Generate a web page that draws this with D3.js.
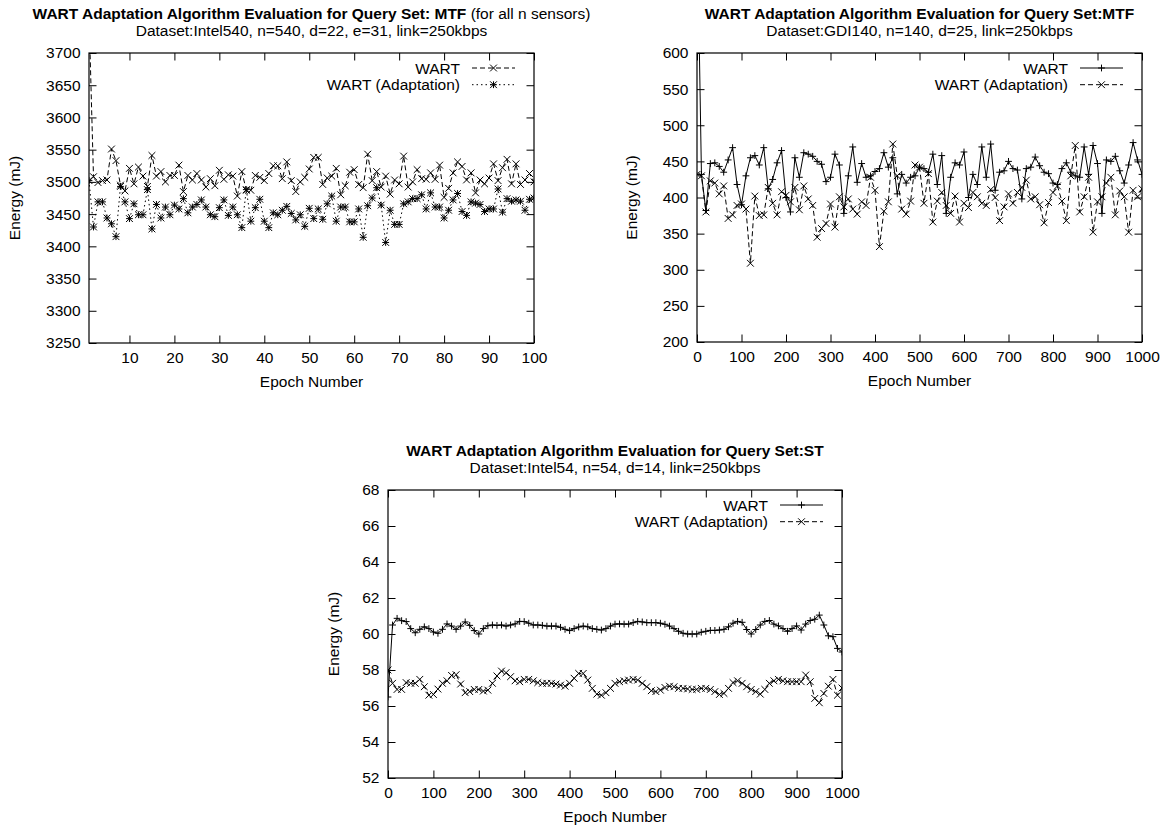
<!DOCTYPE html>
<html>
<head>
<meta charset="utf-8">
<script src="https://cdn.jsdelivr.net/npm/d3@7/dist/d3.min.js"></script>
<style>
  body { margin: 0; background: #fff; }
  svg { display: block; }
</style>
</head>
<body>
<svg id="fig" width="1173" height="826"></svg>
<script>
// ---- data: MTF query set, Intel540 (epochs 1..100)
var intel540Epochs = d3.range(1, 101);
var intel540Wart = [
  3760, 3508, 3499, 3502, 3503, 3551, 3533, 3495, 3486, 3521,
  3497, 3523, 3509, 3493, 3541, 3509, 3516, 3500, 3510, 3510,
  3526, 3485, 3510, 3503, 3513, 3503, 3492, 3505, 3494, 3518,
  3504, 3511, 3509, 3478, 3516, 3487, 3487, 3510, 3507, 3502,
  3513, 3525, 3525, 3505, 3531, 3502, 3485, 3500, 3507, 3520,
  3538, 3538, 3496, 3506, 3509, 3521, 3480, 3494, 3515, 3519,
  3496, 3491, 3543, 3502, 3516, 3492, 3509, 3481, 3503, 3497,
  3540, 3492, 3500, 3519, 3505, 3504, 3514, 3504, 3526, 3476,
  3490, 3514, 3531, 3524, 3503, 3514, 3483, 3503, 3497, 3506,
  3528, 3502, 3522, 3535, 3497, 3528, 3496, 3503, 3513, 3500
];
var intel540Adapt = [
  3502, 3430, 3469, 3469, 3444, 3435, 3415, 3493, 3469, 3443,
  3466, 3449, 3449, 3488, 3427, 3465, 3444, 3461, 3449, 3464,
  3458, 3474, 3452, 3461, 3465, 3472, 3461, 3449, 3446, 3460,
  3472, 3448, 3461, 3449, 3429, 3488, 3439, 3460, 3473, 3439,
  3429, 3452, 3449, 3456, 3462, 3451, 3441, 3449, 3431, 3459,
  3443, 3458, 3442, 3466, 3478, 3439, 3461, 3461, 3438, 3438,
  3458, 3414, 3463, 3475, 3491, 3464, 3406, 3456, 3434, 3434,
  3466, 3469, 3474, 3474, 3480, 3458, 3483, 3461, 3461, 3444,
  3456, 3472, 3482, 3454, 3448, 3469, 3467, 3465, 3454, 3458,
  3458, 3489, 3453, 3474, 3470, 3472, 3470, 3456, 3473, 3475
];
var intel540XTicks = [10, 20, 30, 40, 50, 60, 70, 80, 90, 100];
var intel540YTicks = [3250, 3300, 3350, 3400, 3450, 3500, 3550, 3600, 3650, 3700];

// ---- data: MTF query set, GDI140 (epochs 0..1000 step 10)
var gdi140Epochs = d3.range(0, 1001, 10);
var gdi140Wart = [
  800, 432, 382, 447, 448, 443, 435, 452, 469, 418,
  390, 430, 455, 458, 445, 469, 412, 425, 448, 465,
  400, 380, 455, 428, 462, 460, 457, 450, 446, 422,
  428, 460, 445, 378, 430, 470, 421, 447, 428, 430,
  436, 440, 462, 442, 455, 405, 432, 420, 428, 430,
  442, 440, 435, 460, 418, 458, 378, 428, 448, 445,
  463, 400, 432, 418, 470, 428, 474, 410, 435, 437,
  450, 440, 438, 398, 440, 442, 456, 444, 435, 433,
  420, 418, 440, 448, 435, 430, 428, 470, 432, 472,
  447, 378, 452, 450, 457, 437, 420, 445, 476, 452,
  432
];
var gdi140Adapt = [
  432, 430, 380, 423, 420, 405, 416, 371, 376, 389,
  391, 384, 309, 402, 375, 376, 414, 392, 376, 408,
  403, 394, 414, 383, 416, 398, 389, 345, 357, 364,
  391, 359, 401, 387, 398, 384, 377, 394, 389, 428,
  410, 332, 381, 394, 474, 430, 384, 377, 395, 445,
  442, 392, 433, 366, 395, 407, 389, 378, 402, 366,
  392, 386, 407, 401, 392, 389, 411, 400, 368, 387,
  405, 392, 407, 414, 424, 398, 401, 390, 365, 393,
  407, 416, 395, 368, 430, 472, 380, 401, 428, 352,
  394, 401, 420, 428, 376, 409, 401, 352, 410, 401,
  412
];
var gdi140XTicks = [0, 100, 200, 300, 400, 500, 600, 700, 800, 900, 1000];
var gdi140YTicks = [200, 250, 300, 350, 400, 450, 500, 550, 600];

// ---- data: ST query set, Intel54 (epochs 0..1000 step 10)
var intel54Epochs = d3.range(0, 1001, 10);
var intel54Wart = [
  56.5, 60.5, 60.87, 60.74, 60.69, 60.3, 60.07, 60.26, 60.4, 60.3,
  60.11, 60.04, 60.26, 60.56, 60.44, 60.26, 60.44, 60.67, 60.48, 60.19,
  60.0, 60.3, 60.46, 60.5, 60.48, 60.5, 60.44, 60.5, 60.56, 60.7,
  60.69, 60.6, 60.5, 60.5, 60.48, 60.44, 60.44, 60.44, 60.37, 60.26,
  60.19, 60.3, 60.39, 60.44, 60.4, 60.3, 60.26, 60.22, 60.3, 60.44,
  60.55, 60.56, 60.55, 60.55, 60.63, 60.7, 60.67, 60.63, 60.63, 60.63,
  60.6, 60.54, 60.44, 60.3, 60.15, 60.04, 60.0, 60.0, 60.0, 60.1,
  60.15, 60.2, 60.2, 60.22, 60.26, 60.4, 60.6, 60.7, 60.65, 60.25,
  60.0, 60.25, 60.5, 60.7, 60.75, 60.55, 60.45, 60.3, 60.15, 60.3,
  60.45, 60.22, 60.55, 60.75, 60.82, 61.05, 60.5, 59.9, 59.85, 59.2,
  59.0
];
var intel54Adapt = [
  58.0, 57.26, 56.92, 56.92, 57.3, 57.26, 57.26, 57.48, 57.07, 56.6,
  56.64, 56.94, 57.26, 57.4, 57.7, 57.74, 57.22, 56.74, 56.8, 56.92,
  56.92, 56.83, 56.88, 57.26, 57.67, 57.94, 57.85, 57.63, 57.4, 57.35,
  57.48, 57.48, 57.4, 57.3, 57.26, 57.26, 57.26, 57.22, 57.16, 57.1,
  57.26, 57.54, 57.81, 57.81, 57.44, 56.98, 56.66, 56.6, 56.74, 56.98,
  57.26, 57.35, 57.4, 57.44, 57.48, 57.44, 57.26, 57.07, 56.85, 56.8,
  56.88, 57.03, 57.1, 57.07, 56.98, 56.98, 56.95, 56.92, 56.92, 56.98,
  56.98, 56.92, 56.8, 56.64, 56.7, 56.98, 57.3, 57.4, 57.26, 57.07,
  56.92, 56.8, 56.66, 56.92, 57.26, 57.4, 57.48, 57.4, 57.35, 57.35,
  57.35, 57.35, 57.72, 57.35, 56.42, 56.18, 56.7, 57.1, 57.48, 56.6,
  57.0
];
var intel54XTicks = [0, 100, 200, 300, 400, 500, 600, 700, 800, 900, 1000];
var intel54YTicks = [52, 54, 56, 58, 60, 62, 64, 66, 68];

// ---- drawing
var FONT = '"Liberation Sans", Arial, Helvetica, sans-serif';
var FS = 15.5;
var svg = d3.select("#fig");
var defs = svg.append("defs");

function markerPath(kind, s) {
  var cross = "M" + (-s) + "," + (-s) + "L" + s + "," + s + "M" + (-s) + "," + s + "L" + s + "," + (-s);
  var plus = "M" + (-s) + ",0H" + s + "M0," + (-s) + "V" + s;
  if (kind == "x") return cross;
  if (kind == "+") return plus;
  return cross + plus;
}

var DASH = { solid: null, dashed: "5,3", dotted: "1.5,3" };

function drawChart(c) {
  var x = d3.scaleLinear().domain(c.xDomain).range([c.left, c.right]);
  var y = d3.scaleLinear().domain(c.yDomain).range([c.bottom, c.top]);
  var g = svg.append("g");
  var midX = (c.left + c.right) / 2;

  defs.append("clipPath").attr("id", c.id + "-clip")
    .append("rect")
      .attr("x", c.left).attr("y", c.top)
      .attr("width", c.right - c.left).attr("height", c.bottom - c.top);

  // axes, ticks pointing inward on all four sides
  var fmt = d3.format("d");
  var axes = [
    [d3.axisBottom(x).tickValues(c.xTicks).tickFormat(fmt), "translate(0," + c.bottom + ")"],
    [d3.axisTop(x).tickValues(c.xTicks).tickFormat(""), "translate(0," + c.top + ")"],
    [d3.axisLeft(y).tickValues(c.yTicks).tickFormat(fmt), "translate(" + c.left + ",0)"],
    [d3.axisRight(y).tickValues(c.yTicks).tickFormat(""), "translate(" + c.right + ",0)"]
  ];
  axes.forEach(function(a) {
    var ax = g.append("g")
      .attr("transform", a[1])
      .call(a[0].tickSize(-7.5).tickPadding(8.5));
    ax.select(".domain").remove();
    ax.selectAll(".tick line").attr("stroke", "#000").attr("stroke-width", 1);
    ax.attr("font-family", FONT).attr("font-size", FS);
    ax.selectAll("text").attr("fill", "#000");
  });

  g.append("rect")
    .attr("x", c.left).attr("y", c.top)
    .attr("width", c.right - c.left).attr("height", c.bottom - c.top)
    .attr("fill", "none").attr("stroke", "#000").attr("stroke-width", 1.2);

  // series
  var line = d3.line()
    .x(function(d) { return x(d[0]); })
    .y(function(d) { return y(d[1]); });

  c.series.forEach(function(s) {
    var pts = s.x.map(function(e, i) { return [e, s.y[i]]; });
    var sg = g.append("g").attr("clip-path", "url(#" + c.id + "-clip)");
    sg.append("path")
      .attr("d", line(pts))
      .attr("fill", "none")
      .attr("stroke", "#000")
      .attr("stroke-width", 1)
      .attr("stroke-dasharray", DASH[s.dash]);
    sg.selectAll(null).data(pts).enter().append("path")
      .attr("transform", function(d) { return "translate(" + x(d[0]) + "," + y(d[1]) + ")"; })
      .attr("d", markerPath(s.marker, 3.4))
      .attr("fill", "none")
      .attr("stroke", "#000")
      .attr("stroke-width", 1);
  });

  // legend (top right, inside)
  c.series.forEach(function(s, i) {
    var ly = c.top + 15 + i * 16.7;
    g.append("text")
      .attr("x", c.right - 74).attr("y", ly).attr("dy", "0.36em")
      .attr("text-anchor", "end")
      .attr("font-family", FONT).attr("font-size", FS)
      .text(s.name);
    g.append("line")
      .attr("x1", c.right - 62).attr("x2", c.right - 19)
      .attr("y1", ly).attr("y2", ly)
      .attr("stroke", "#000").attr("stroke-width", 1)
      .attr("stroke-dasharray", DASH[s.dash]);
    g.append("path")
      .attr("transform", "translate(" + (c.right - 40.5) + "," + ly + ")")
      .attr("d", markerPath(s.marker, 3.4))
      .attr("fill", "none").attr("stroke", "#000");
  });

  // titles, centred over the plot
  var t = g.append("text")
    .attr("x", midX).attr("y", c.top - 34.5)
    .attr("text-anchor", "middle")
    .attr("font-family", FONT).attr("font-size", FS);
  t.append("tspan").attr("font-weight", "bold").text(c.title);
  if (c.titleNote) t.append("tspan").text(c.titleNote);

  g.append("text")
    .attr("x", midX).attr("y", c.top - 17.5)
    .attr("text-anchor", "middle")
    .attr("font-family", FONT).attr("font-size", FS)
    .text(c.subtitle);

  g.append("text")
    .attr("x", midX).attr("y", c.bottom + 43.5)
    .attr("text-anchor", "middle")
    .attr("font-family", FONT).attr("font-size", FS)
    .text("Epoch Number");

  g.append("text")
    .attr("transform", "translate(" + c.yTitleX + "," + (c.top + c.bottom) / 2 + ") rotate(-90)")
    .attr("dy", "0.36em")
    .attr("text-anchor", "middle")
    .attr("font-family", FONT).attr("font-size", FS)
    .text("Energy (mJ)");
}

drawChart({
  id: "c1", left: 89, right: 534, top: 53, bottom: 343,
  xDomain: [1, 100], yDomain: [3250, 3700],
  xTicks: intel540XTicks, yTicks: intel540YTicks,
  title: "WART Adaptation Algorithm Evaluation for Query Set: MTF",
  titleNote: " (for all n sensors)",
  subtitle: "Dataset:Intel540, n=540, d=22, e=31, link=250kbps",
  yTitleX: 14,
  series: [
    { name: "WART", x: intel540Epochs, y: intel540Wart, dash: "dashed", marker: "x" },
    { name: "WART (Adaptation)", x: intel540Epochs, y: intel540Adapt, dash: "dotted", marker: "*" }
  ]
});

drawChart({
  id: "c2", left: 697, right: 1142, top: 53, bottom: 342,
  xDomain: [0, 1000], yDomain: [200, 600],
  xTicks: gdi140XTicks, yTicks: gdi140YTicks,
  title: "WART Adaptation Algorithm Evaluation for Query Set:MTF",
  subtitle: "Dataset:GDI140, n=140, d=25, link=250kbps",
  yTitleX: 631,
  series: [
    { name: "WART", x: gdi140Epochs, y: gdi140Wart, dash: "solid", marker: "+" },
    { name: "WART (Adaptation)", x: gdi140Epochs, y: gdi140Adapt, dash: "dashed", marker: "x" }
  ]
});

drawChart({
  id: "c3", left: 388, right: 842, top: 490, bottom: 778,
  xDomain: [0, 1000], yDomain: [52, 68],
  xTicks: intel54XTicks, yTicks: intel54YTicks,
  title: "WART Adaptation Algorithm Evaluation for Query Set:ST",
  subtitle: "Dataset:Intel54, n=54, d=14, link=250kbps",
  yTitleX: 333,
  series: [
    { name: "WART", x: intel54Epochs, y: intel54Wart, dash: "solid", marker: "+" },
    { name: "WART (Adaptation)", x: intel54Epochs, y: intel54Adapt, dash: "dashed", marker: "x" }
  ]
});
</script>
</body>
</html>
